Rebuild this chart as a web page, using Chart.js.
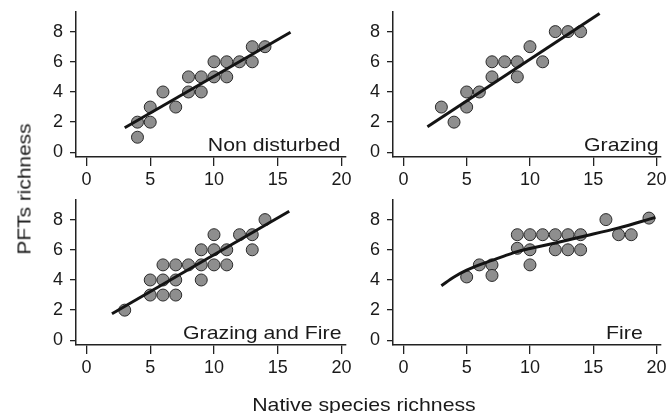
<!DOCTYPE html>
<html>
<head>
<meta charset="utf-8">
<script src="https://cdn.jsdelivr.net/npm/chart.js@4.4.0/dist/chart.umd.min.js"></script>
<style>
  body { margin: 0; background: #fff; }
  #wrap { position: relative; width: 668px; height: 413px; overflow: hidden; background: #fff;
          font-family: "Liberation Sans", Arial, sans-serif; color: #1a1a1a; }
  #wrap canvas { position: absolute; }
  .lbl { position: absolute; white-space: nowrap; line-height: 1; }
</style>
</head>
<body>
<div id="wrap">
  <canvas id="c1"></canvas>
  <canvas id="c2"></canvas>
  <canvas id="c3"></canvas>
  <canvas id="c4"></canvas>
</div>
<script>
// ---------------------------------------------------------
// data
// ---------------------------------------------------------
const xTicks = [0, 5, 10, 15, 20];
const yTicks = [0, 2, 4, 6, 8];

const panelNames = ['Non disturbed', 'Grazing', 'Grazing and Fire', 'Fire'];

const nonDistX = [4, 4, 5, 5, 6, 7, 8, 8, 9, 9, 10, 10, 11, 11, 12, 13, 13, 14];
const nonDistY = [2, 1, 3, 2, 4, 3, 5, 4, 5, 4, 6, 5, 6, 5, 6, 7, 6, 7];
const nonDistFitX = [3, 16];
const nonDistFitY = [1.63, 7.96];

const grazX = [3, 4, 5, 5, 6, 7, 7, 8, 9, 9, 10, 11, 12, 13, 14];
const grazY = [3, 2, 4, 3, 4, 6, 5, 6, 6, 5, 7, 6, 8, 8, 8];
const grazFitX = [1.9, 15.5];
const grazFitY = [1.7, 9.2];

const grazFireX = [3, 5, 5, 6, 6, 6, 7, 7, 7, 8, 9, 9, 9, 10, 10, 10, 11, 11, 12, 13, 13, 14];
const grazFireY = [2, 4, 3, 5, 4, 3, 5, 4, 3, 5, 6, 5, 4, 7, 6, 5, 6, 5, 7, 7, 6, 8];
const grazFireFitX = [2, 15.9];
const grazFireFitY = [1.76, 8.55];

const fireX = [5, 6, 7, 7, 9, 9, 10, 10, 10, 11, 12, 12, 13, 13, 14, 14, 16, 17, 18, 19.4];
const fireY = [4.2, 5, 5, 4.3, 7, 6.1, 7, 6, 5, 7, 7, 6, 7, 6, 7, 6, 8, 7, 7, 8.1];
const fireFitX = [3, 4, 5, 6, 7, 8, 9, 10, 12, 14, 17, 19.9];
const fireFitY = [3.62, 4.2, 4.65, 5.0, 5.3, 5.6, 5.88, 6.08, 6.45, 6.85, 7.45, 8.15];

// ---------------------------------------------------------
// layout of the four panels (page pixels)
// ---------------------------------------------------------
const PANELS = [
    { id: 'c1', left: 0,   top: 0,   w: 360, h: 200, area: [76, 12, 346, 157],  xs: nonDistX,  ys: nonDistY,  fx: nonDistFitX,  fy: nonDistFitY,  curve: false },
    { id: 'c2', left: 318, top: 0,   w: 350, h: 200, area: [393, 12, 663, 157], xs: grazX,     ys: grazY,     fx: grazFitX,     fy: grazFitY,     curve: false },
    { id: 'c3', left: 0,   top: 188, w: 360, h: 225, area: [76, 200, 346, 345], xs: grazFireX, ys: grazFireY, fx: grazFireFitX, fy: grazFireFitY, curve: false },
    { id: 'c4', left: 318, top: 188, w: 350, h: 225, area: [393, 200, 663, 345], xs: fireX,    ys: fireY,     fx: fireFitX,     fy: fireFitY,     curve: true }
];

// label positions: right edge and baseline of each panel name
const LABEL_POS = [[340, 150.7], [659, 150.7], [341.7, 339], [642.7, 339]];

Chart.defaults.font.family = '"Liberation Sans", Arial, sans-serif';
Chart.defaults.color = '#1a1a1a';

function toPoints(xs, ys) {
    return xs.map((x, i) => ({ x: x, y: ys[i] }));
}

function makePanel(p) {
    const canvas = document.getElementById(p.id);
    canvas.width = p.w;
    canvas.height = p.h;
    canvas.style.left = p.left + 'px';
    canvas.style.top = p.top + 'px';
    canvas.style.width = p.w + 'px';
    canvas.style.height = p.h + 'px';

    const [aL, aT, aR, aB] = p.area;
    const yWidth = aL - p.left;
    const xHeight = p.top + p.h - aB;

    new Chart(canvas.getContext('2d'), {
        type: 'scatter',
        data: {
            datasets: [
                {
                    data: toPoints(p.fx, p.fy),
                    showLine: true,
                    borderColor: '#141414',
                    borderWidth: 3,
                    pointRadius: 0,
                    tension: p.curve ? 0.4 : 0,
                    cubicInterpolationMode: p.curve ? 'monotone' : 'default',
                    order: 0
                },
                {
                    data: toPoints(p.xs, p.ys),
                    backgroundColor: '#8e8e8e',
                    borderColor: '#2a2a2a',
                    borderWidth: 1,
                    pointRadius: 6,
                    order: 1
                }
            ]
        },
        options: {
            responsive: false,
            devicePixelRatio: 1,
            animation: false,
            events: [],
            layout: { padding: { left: 0, top: aT - p.top, right: p.left + p.w - aR, bottom: 0 } },
            plugins: { legend: { display: false }, tooltip: { enabled: false } },
            scales: {
                x: {
                    type: 'linear',
                    min: -0.82,
                    max: 20.35,
                    afterBuildTicks: axis => { axis.ticks = xTicks.map(v => ({ value: v })); },
                    afterFit: s => { s.height = xHeight; s.paddingLeft = 0; s.paddingRight = 0; },
                    grid: { drawOnChartArea: false, drawTicks: true, tickLength: 9, color: '#222', lineWidth: 1.3 },
                    border: { display: true, color: '#222', width: 1.5 },
                    ticks: { font: { size: 18 }, padding: 3, color: '#1a1a1a', maxRotation: 0 }
                },
                y: {
                    type: 'linear',
                    min: -0.31,
                    max: 9.3,
                    afterBuildTicks: axis => { axis.ticks = yTicks.map(v => ({ value: v })); },
                    afterFit: s => { s.width = yWidth; s.paddingTop = 0; s.paddingBottom = 0; },
                    grid: { drawOnChartArea: false, drawTicks: true, tickLength: 6, color: '#222', lineWidth: 1.3 },
                    border: { display: true, color: '#222', width: 1.5 },
                    ticks: { font: { size: 18 }, padding: 7, color: '#1a1a1a' }
                }
            }
        }
    });
}

PANELS.forEach(makePanel);

// ---------------------------------------------------------
// texts
// ---------------------------------------------------------
const wrap = document.getElementById('wrap');

function addLabel(text, css) {
    const d = document.createElement('div');
    d.className = 'lbl';
    d.textContent = text;
    Object.assign(d.style, css);
    wrap.appendChild(d);
}

panelNames.forEach((name, i) => {
    const [right, base] = LABEL_POS[i];
    const fs = 19;
    addLabel(name, {
        fontSize: fs + 'px',
        right: (668 - right) + 'px',
        top: (base - 0.85 * fs) + 'px',
        transformOrigin: 'right center',
        transform: 'scaleX(1.12)'
    });
});

addLabel('Native species richness', {
    fontSize: '19px',
    left: '364px',
    top: (410.7 - 0.85 * 19) + 'px',
    transform: 'translateX(-50%) scaleX(1.12)'
});

addLabel('PFTs richness', {
    fontSize: '19px',
    left: '24px',
    top: '189px',
    transform: 'translate(-50%, -50%) rotate(-90deg) scaleX(1.1)'
});
</script>
</body>
</html>
